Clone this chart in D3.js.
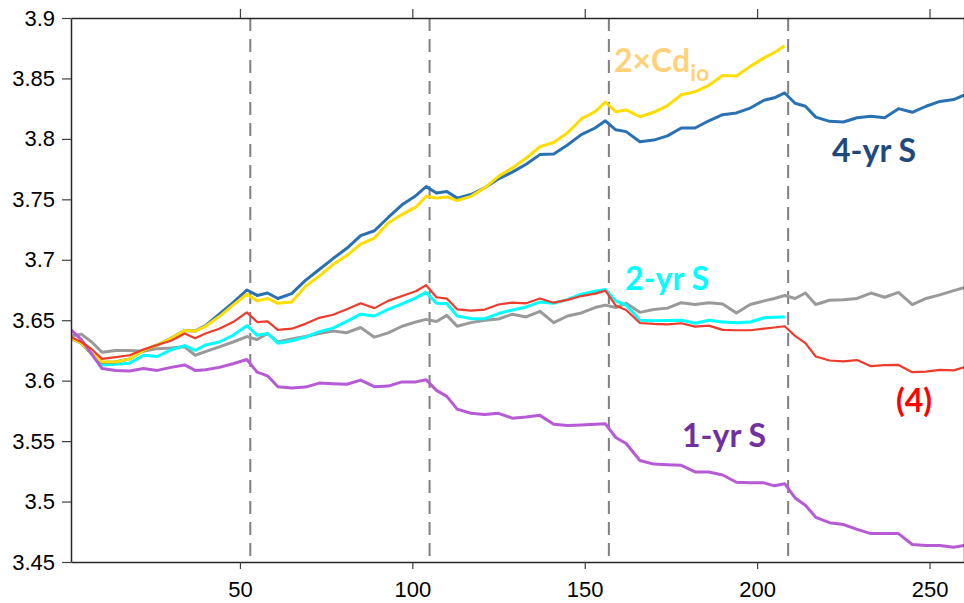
<!DOCTYPE html>
<html>
<head>
<meta charset="utf-8">
<script src="https://cdn.jsdelivr.net/npm/d3@7"></script>
<style>
  body { margin: 0; background: #fff; }
</style>
</head>
<body>
<div id="chart"></div>
<script>
// sample points (month index) shared by all curves
var xs = [1, 4, 7, 10, 14, 18, 22, 26, 30, 34, 37, 40, 44, 48, 52, 55, 58, 61, 65, 69,
  73, 77, 81, 85, 89, 93, 97, 101, 104, 107, 110, 113, 117, 121, 125, 129, 133, 137, 141, 145,
  149, 153, 156, 159, 162, 166, 170, 174, 178, 182, 186, 190, 194, 198, 202, 205, 208, 211, 214, 217,
  221, 225, 229, 233, 237, 241, 245, 249, 253, 257, 260];

var gray = [3.637, 3.6385, 3.632, 3.6235, 3.625, 3.625, 3.6243, 3.6265, 3.627, 3.628, 3.621, 3.624, 3.628, 3.632, 3.6365, 3.634, 3.639, 3.632, 3.6345, 3.6365,
  3.639, 3.641, 3.6397, 3.644, 3.636, 3.6395, 3.645, 3.6485, 3.6507, 3.649, 3.654, 3.645, 3.648, 3.650, 3.651, 3.655, 3.6527, 3.6574, 3.648, 3.6535,
  3.656, 3.6605, 3.6625, 3.6605, 3.664, 3.6565, 3.6588, 3.660, 3.6645, 3.663, 3.6645, 3.6635, 3.656, 3.663, 3.666, 3.668, 3.6705, 3.668, 3.6725, 3.663,
  3.6665, 3.667, 3.668, 3.6725, 3.669, 3.673, 3.663, 3.668, 3.671, 3.6745, 3.677];

var cyan = [3.635, 3.631, 3.622, 3.613, 3.6135, 3.6145, 3.621, 3.620, 3.6255, 3.629, 3.625, 3.6295, 3.632, 3.6375, 3.6455, 3.6375, 3.639, 3.631, 3.633, 3.636,
  3.6405, 3.6435, 3.649, 3.655, 3.6535, 3.659, 3.6635, 3.6685, 3.673, 3.664, 3.6638, 3.6535, 3.6513, 3.6513, 3.6555, 3.6585, 3.661, 3.665, 3.664, 3.667,
  3.6715, 3.674, 3.6755, 3.666, 3.6625, 3.650, 3.6495, 3.6497, 3.650, 3.6475, 3.650, 3.6485, 3.648, 3.6485, 3.652, 3.6525, 3.6527, null, null, null,
  null, null, null, null, null, null, null, null, null, null, null];

var blue = [3.635, 3.631, 3.6225, 3.615, 3.6155, 3.618, 3.625, 3.6295, 3.635, 3.6415, 3.641, 3.6455, 3.655, 3.6645, 3.675, 3.6705, 3.6725, 3.668, 3.672, 3.683,
  3.692, 3.701, 3.7095, 3.720, 3.724, 3.735, 3.7455, 3.753, 3.7605, 3.7553, 3.7565, 3.751, 3.754, 3.7596, 3.767, 3.7725, 3.779, 3.787, 3.7875, 3.795,
  3.8035, 3.809, 3.815, 3.8075, 3.806, 3.7976, 3.799, 3.8025, 3.809, 3.809, 3.815, 3.820, 3.8215, 3.8255, 3.832, 3.834, 3.838, 3.8295, 3.827, 3.818,
  3.8145, 3.814, 3.8175, 3.8188, 3.8175, 3.825, 3.822, 3.827, 3.831, 3.8325, 3.8362];

var yellow = [3.635, 3.631, 3.6225, 3.6155, 3.6155, 3.618, 3.625, 3.6295, 3.635, 3.6415, 3.641, 3.645, 3.653, 3.6625, 3.6715, 3.666, 3.668, 3.664, 3.665, 3.678,
  3.6865, 3.696, 3.7035, 3.713, 3.718, 3.7305, 3.7375, 3.7435, 3.7525, 3.751, 3.752, 3.749, 3.7525, 3.7595, 3.769, 3.776, 3.784, 3.7935, 3.797, 3.805,
  3.8165, 3.8225, 3.8305, 3.8225, 3.824, 3.8183, 3.822, 3.8275, 3.8365, 3.839, 3.8443, 3.8525, 3.852, 3.860, 3.867, 3.8715, 3.877, null, null, null,
  null, null, null, null, null, null, null, null, null, null, null];

var purple = [3.642, 3.634, 3.622, 3.610, 3.6085, 3.608, 3.610, 3.6085, 3.611, 3.613, 3.6085, 3.609, 3.611, 3.614, 3.6175, 3.607, 3.604, 3.595, 3.594, 3.5947,
  3.598, 3.5975, 3.597, 3.6005, 3.595, 3.5955, 3.599, 3.599, 3.6008, 3.592, 3.587, 3.5765, 3.573, 3.572, 3.573, 3.569, 3.570, 3.5713, 3.564, 3.563,
  3.5634, 3.564, 3.5643, 3.553, 3.548, 3.534, 3.531, 3.5305, 3.530, 3.5245, 3.5245, 3.522, 3.516, 3.5155, 3.5155, 3.513, 3.5148, 3.503, 3.497, 3.487,
  3.4825, 3.481, 3.477, 3.4735, 3.4735, 3.4735, 3.4645, 3.4636, 3.4636, 3.4622, 3.4636];

var red = [3.636, 3.632, 3.626, 3.618, 3.6195, 3.621, 3.6257, 3.6295, 3.633, 3.639, 3.635, 3.639, 3.643, 3.6485, 3.6565, 3.6485, 3.649, 3.642, 3.643, 3.647,
  3.652, 3.6545, 3.659, 3.664, 3.660, 3.666, 3.670, 3.674, 3.679, 3.669, 3.6679, 3.659, 3.658, 3.6588, 3.663, 3.6646, 3.664, 3.668, 3.6645, 3.6668,
  3.670, 3.672, 3.6745, 3.662, 3.6585, 3.6477, 3.647, 3.6466, 3.6475, 3.6447, 3.6455, 3.642, 3.6417, 3.6417, 3.643, 3.644, 3.645, 3.637, 3.631, 3.620,
  3.6167, 3.616, 3.617, 3.612, 3.6128, 3.613, 3.607, 3.6075, 3.609, 3.6085, 3.611];

// series drawn back to front
var series = [
  {name: "gray", values: gray, color: "#9a9a9a", width: 3},
  {name: "2-yr S", values: cyan, color: "#00ffff", width: 3},
  {name: "4-yr S", values: blue, color: "#2a71b4", width: 3},
  {name: "2xCd", values: yellow, color: "#ffdd00", width: 3},
  {name: "1-yr S", values: purple, color: "#b65ad6", width: 3},
  {name: "(4)", values: red, color: "#ee3b2c", width: 2.2}
];

var breaks = [53, 105, 157, 209];
var xTicks = [50, 100, 150, 200, 250];
var yTicks = [3.45, 3.5, 3.55, 3.6, 3.65, 3.7, 3.75, 3.8, 3.85, 3.9];

var width = 964, height = 603;
var plot = {left: 71, right: 964, top: 18, bottom: 562};

var svg = d3.select("#chart")
  .append("svg")
    .attr("width", width)
    .attr("height", height)
    .style("font-family", "'Liberation Sans', Arial, sans-serif");

var x = d3.scaleLinear().domain([1, 260]).range([plot.left, plot.right]);
var y = d3.scaleLinear().domain([3.45, 3.9]).range([plot.bottom, plot.top]);

svg.append("clipPath").attr("id", "clip")
  .append("rect")
    .attr("x", plot.left).attr("y", plot.top)
    .attr("width", plot.right - plot.left).attr("height", plot.bottom - plot.top);

// dashed separators
svg.selectAll(".brk")
  .data(breaks)
  .enter().append("line")
    .attr("class", "brk")
    .attr("x1", d => x(d)).attr("x2", d => x(d))
    .attr("y1", plot.top).attr("y2", plot.bottom)
    .attr("stroke", "#808080")
    .attr("stroke-width", 2)
    .attr("stroke-dasharray", "13,8");

var line = d3.line()
  .defined(d => d[1] != null)
  .x(d => x(d[0]))
  .y(d => y(d[1]));

svg.append("g").attr("clip-path", "url(#clip)")
  .selectAll("path")
  .data(series)
  .enter().append("path")
    .attr("d", s => line(xs.map((v, i) => [v, s.values[i]])))
    .attr("fill", "none")
    .attr("stroke", s => s.color)
    .attr("stroke-width", s => s.width)
    .attr("stroke-linejoin", "round");

// axes, ticks outward on all sides
var fmt = d => String(+d.toFixed(2));
var bottomAxis = svg.append("g")
  .attr("transform", "translate(0," + plot.bottom + ")")
  .call(d3.axisBottom(x).tickValues(xTicks).tickSizeInner(7).tickSizeOuter(0).tickPadding(12));
var topAxis = svg.append("g")
  .attr("transform", "translate(0," + plot.top + ")")
  .call(d3.axisTop(x).tickValues(xTicks).tickSizeInner(9).tickSizeOuter(0).tickFormat(""));
var leftAxis = svg.append("g")
  .attr("transform", "translate(" + plot.left + ",0)")
  .call(d3.axisLeft(y).tickValues(yTicks).tickFormat(fmt).tickSizeInner(9).tickSizeOuter(0).tickPadding(7));
var rightAxis = svg.append("g")
  .attr("transform", "translate(" + plot.right + ",0)")
  .call(d3.axisRight(y).tickValues(yTicks).tickSizeInner(9).tickSizeOuter(0).tickFormat(""));

[bottomAxis, topAxis, leftAxis, rightAxis].forEach(function(a) {
  a.select(".domain").attr("stroke", "#262626").attr("stroke-width", 1.5);
  a.selectAll(".tick line").attr("stroke", "#404040").attr("stroke-width", 1.2);
  a.selectAll("text")
    .attr("fill", "#000")
    .style("font-size", "22px")
    .style("font-family", "'Liberation Sans', Arial, sans-serif");
});

// curve labels
var lab = svg.append("g")
  .style("font-family", "Lato, 'Open Sans', sans-serif")
  .style("font-weight", "bold")
  .style("font-size", "32px");

var cd = lab.append("text").attr("x", 614).attr("y", 72).attr("fill", "#ffd27a");
cd.append("tspan").text("2×Cd");
cd.append("tspan").attr("dy", 9).style("font-size", "23px").text("io");

lab.append("text").attr("x", 832).attr("y", 162).attr("fill", "#1f497d").text("4-yr S");
lab.append("text").attr("x", 625).attr("y", 290).attr("fill", "#00ffff").text("2-yr S");
lab.append("text").attr("x", 896).attr("y", 412).attr("fill", "#ff0000").text("(4)");
lab.append("text").attr("x", 682).attr("y", 447).attr("fill", "#7030a0").text("1-yr S");
</script>
</body>
</html>
